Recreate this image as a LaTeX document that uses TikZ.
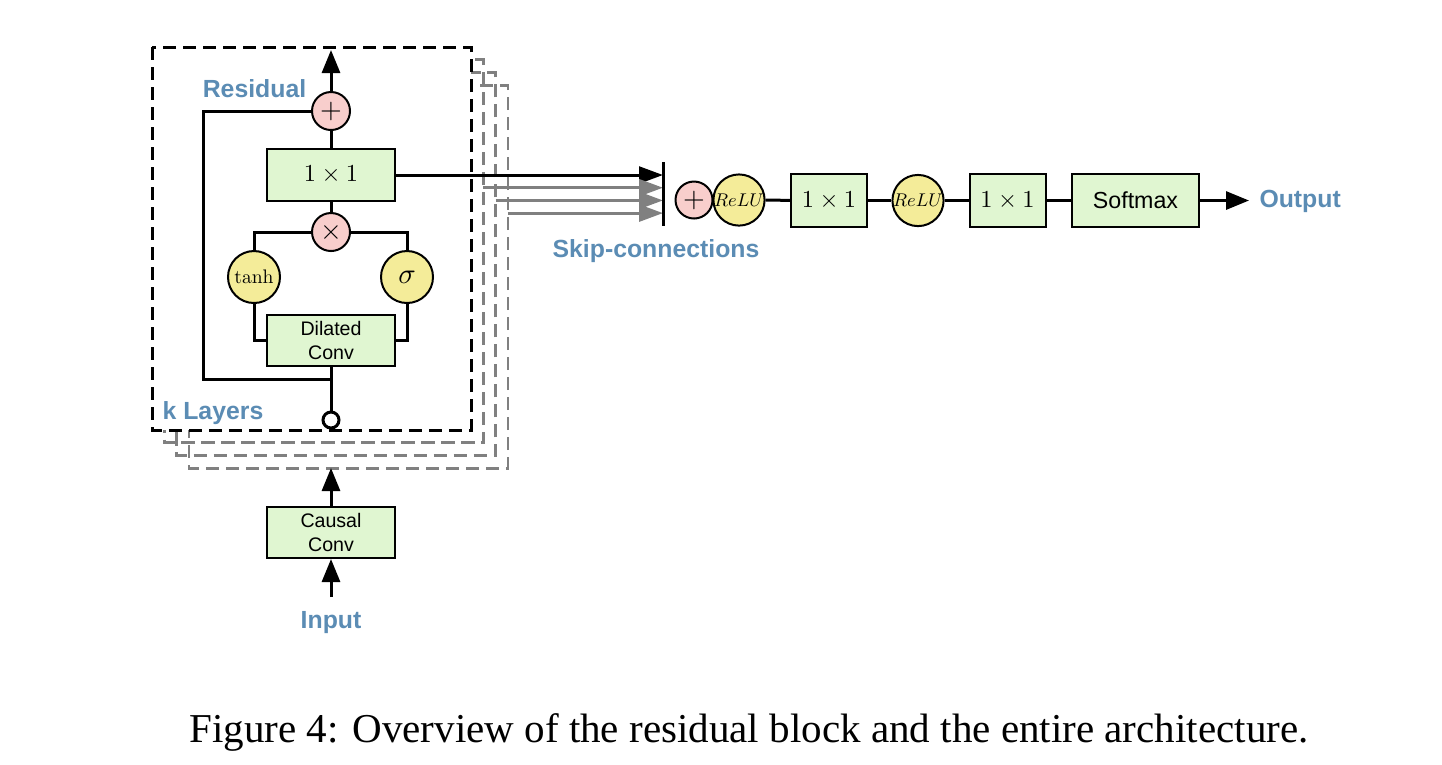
\documentclass[tikz,border=0pt]{standalone}
\usepackage{graphicx}
\usepackage{fontspec}
\setsansfont{Liberation Sans}
\newfontfamily\capfont{Liberation Serif}
\usetikzlibrary{arrows.meta}

\definecolor{lblblue}{RGB}{91,140,180}
\definecolor{boxgreen}{RGB}{224,246,209}
\definecolor{oppink}{RGB}{248,206,204}
\definecolor{actyellow}{RGB}{244,236,153}
\definecolor{layergray}{RGB}{128,128,128}

% math set at 10pt and shrunk, so the small glyphs keep their shapes
\newcommand{\mathat}[2]{\scalebox{#1}{$#2$}}

\begin{document}
\begin{tikzpicture}[x=0.25pt, y=-0.25pt, line width=0.75pt,
    box/.style={draw, line width=0.5pt, fill=boxgreen, minimum height=13pt, inner sep=0pt, align=center},
    op/.style={circle, draw, line width=0.5pt, fill=oppink, minimum size=9.5pt, inner sep=0pt},
    act/.style={circle, draw, line width=0.5pt, fill=actyellow, minimum size=13pt, inner sep=0pt},
    lbl/.style={text=lblblue, font=\sffamily\bfseries\fontsize{6.2}{7}\selectfont, anchor=base, inner sep=0pt},
    arr/.style={-{Triangle[length=5.75pt,width=4.5pt]}},
    skiparr/.style={-{Triangle[length=6pt,width=4.2pt]}},
    layerbox/.style={dash pattern=on 3.3pt off 1.7pt}
    ]
    \useasboundingbox (0,0) rectangle (1442,764);

    % stacked layers
    \foreach \i in {3,2,1}
      \draw[layerbox, layergray, line width=0.7pt] (152+12.3*\i,47+12.7*\i) rectangle (471+12.3*\i,430+12.7*\i);
    \draw[layerbox, fill=white] (152,47) rectangle (471,430);

    % residual block
    \node[op] (res) at (331,111) {\mathat{0.7}{+}};
    \node[box, minimum width=32pt] (mix) at (331,175) {\mathat{0.61}{1\times1}};
    \node[op] (gate) at (331,232) {\mathat{0.7}{\times}};
    \node[act] (tanh) at (254,277) {\mathat{0.49}{\tanh}};
    \node[act] (sig) at (407,277) {\mathat{0.72}{\sigma}};
    \node[box, minimum width=32pt, minimum height=12.75pt, font=\sffamily\fontsize{4.9}{5.8}\selectfont] (dil) at (331,340.5) {Dilated\\Conv};
    \node[circle, draw, fill=white, minimum size=4pt, inner sep=0pt] (lin) at (331,420) {};
    \coordinate (top) at (331,50);
    \coordinate (loop) at (203,379);
    \coordinate (join) at (331,379);

    \draw[arr] (res) -- (top);
    \draw (mix) -- (res);
    \draw (gate) -- (mix);
    \draw (gate) -| (tanh);
    \draw (gate) -| (sig);
    \draw (tanh) |- (dil);
    \draw (sig) |- (dil);
    \draw (dil) -- (lin);
    \draw (res) -| (loop) -- (join);

    \node[lbl] (residual) at (254.5,97) {Residual};
    \node[lbl] (layers) at (213,419) {k Layers};

    % input
    \node[box, minimum width=32pt, minimum height=12.75pt, font=\sffamily\fontsize{4.9}{5.8}\selectfont] (causal) at (331,532.5) {Causal\\Conv};
    \coordinate (stack) at (331,468);
    \coordinate (inarrow) at (331,597);
    \draw[arr] (causal) -- (stack);
    \draw[arr] (inarrow) -- (causal);
    \node[lbl] (input) at (331,628) {Input};

    % skip-connections
    \coordinate (bartop) at (663,162);
    \coordinate (barbot) at (663,226);
    \coordinate (skip0) at (663,175);
    \draw[skiparr] (mix) -- (skip0);
    \foreach \i in {1,2,3} {
      \coordinate (out\i) at (471+12.3*\i,175+12.7*\i);
      \coordinate (skip\i) at (663,175+12.7*\i);
      \draw[skiparr, layergray] (out\i) -- (skip\i);
    }
    \draw (bartop) -- (barbot);
    \node[lbl] (skiplbl) at (656,257) {Skip-connections};

    % output stack
    \node[op, minimum size=9.25pt] (sum) at (694,200) {\mathat{0.7}{+}};
    \node[act, minimum size=12.75pt] (relu1) at (739,200) {\mathat{0.46}{ReLU}};
    \node[box, minimum width=19pt, minimum height=13.25pt] (conv1) at (829,200.5) {\mathat{0.61}{1\times1}};
    \node[act, minimum size=12.5pt] (relu2) at (918,200.5) {\mathat{0.46}{ReLU}};
    \node[box, minimum width=19pt, minimum height=13.25pt] (conv2) at (1007.5,200.5) {\mathat{0.61}{1\times1}};
    \node[box, minimum width=31.75pt, minimum height=13.25pt, font=\sffamily\fontsize{5.8}{7}\selectfont] (soft) at (1135.5,200.5) {Softmax};
    \coordinate (outtip) at (1249,200.5);
    \draw (relu1) -- (conv1);
    \draw (conv1) -- (relu2);
    \draw (relu2) -- (conv2);
    \draw (conv2) -- (soft);
    \draw[arr] (soft) -- (outtip);
    \node[lbl, anchor=base west] (output) at (1258,207) {Output};

    \node[font=\capfont\fontsize{10.26}{12}\selectfont, anchor=base] (cap) at (749,742) {Figure 4: Overview of the residual block and the entire architecture.};
\end{tikzpicture}
\end{document}
